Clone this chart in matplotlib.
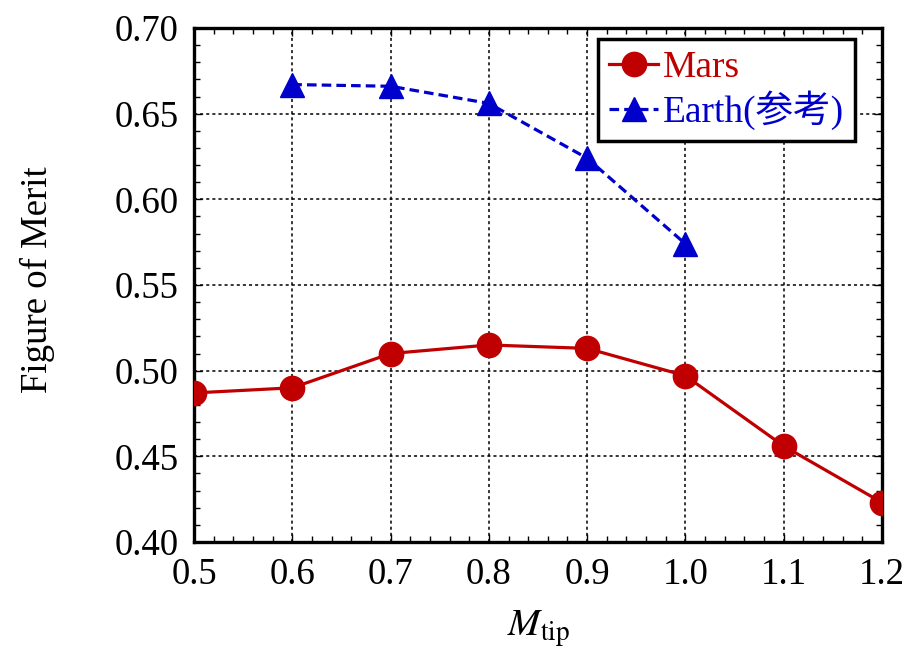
"""
Figure of Merit vs tip Mach number, Mars rotor with Earth reference.

Draws both series on one axes and saves the figure as out.png.
"""

import matplotlib
matplotlib.use("Agg")
import matplotlib.pyplot as plt
from matplotlib.font_manager import FontProperties
from matplotlib.ticker import MultipleLocator

# Data
mach_mars = [0.5, 0.6, 0.7, 0.8, 0.9, 1.0, 1.1, 1.2]
fom_mars = [0.487, 0.490, 0.510, 0.515, 0.513, 0.497, 0.456, 0.423]

mach_earth = [0.6, 0.7, 0.8, 0.9, 1.0]
fom_earth = [0.667, 0.666, 0.656, 0.624, 0.574]

x_ticks = [0.5, 0.6, 0.7, 0.8, 0.9, 1.0, 1.1, 1.2]
x_tick_labels = ["0.5", "0.6", "0.7", "0.8", "0.9", "1.0", "1.1", "1.2"]
y_ticks = [0.40, 0.45, 0.50, 0.55, 0.60, 0.65, 0.70]
y_tick_labels = ["0.40", "0.45", "0.50", "0.55", "0.60", "0.65", "0.70"]

RED = "#C00000"
BLUE = "#0000CD"
FAMILY = ["Liberation Serif", "Noto Sans CJK JP"]


def plot_fom():
    plt.rcParams["font.family"] = FAMILY
    plt.rcParams["mathtext.fontset"] = "stix"

    fig = plt.figure(figsize=(9.16, 6.53), dpi=100)
    ax = fig.add_axes([0.2118, 0.170, 0.7511, 0.7871])

    ax.plot(mach_mars, fom_mars, color=RED, lw=2.3, marker="o",
            markersize=17.5, label="Mars", zorder=3)
    ax.plot(mach_earth, fom_earth, color=BLUE, lw=2.3, marker="^",
            markersize=17, dashes=(3.0, 1.6), label="Earth(参考)", zorder=3)

    ax.set_xlim(0.5, 1.2)
    ax.set_ylim(0.40, 0.70)
    ax.set_xticks(x_ticks)
    ax.set_xticklabels(x_tick_labels)
    ax.set_yticks(y_ticks)
    ax.set_yticklabels(y_tick_labels)
    ax.xaxis.set_minor_locator(MultipleLocator(0.02))
    ax.yaxis.set_minor_locator(MultipleLocator(0.01))

    ax.tick_params(which="both", direction="in", top=True, right=True,
                   width=1.0, labelsize=26.5, pad=11)
    ax.tick_params(which="major", length=6)
    ax.tick_params(which="minor", length=4)
    for spine in ax.spines.values():
        spine.set_linewidth(2.4)

    ax.grid(True, which="major", color="black", lw=1.1, linestyle=(0, (2, 2)))

    ax.set_ylabel("Figure of Merit", fontsize=26.5)
    ax.yaxis.set_label_coords(-0.202, 0.51)
    ax.set_xlabel(r"$M_{\mathrm{tip}}$", fontsize=28)
    ax.xaxis.set_label_coords(0.5, -0.13)

    leg = ax.legend(loc="upper right", bbox_to_anchor=(0.9608, 0.9786),
                    borderaxespad=0, prop=FontProperties(family=FAMILY, size=27),
                    fancybox=False, edgecolor="black", framealpha=1,
                    handlelength=1.3, handletextpad=0.12, borderpad=0.3,
                    labelspacing=0.15)
    leg.get_frame().set_linewidth(2.5)
    for text, line in zip(leg.get_texts(), leg.get_lines()):
        text.set_color(line.get_color())

    fig.savefig("out.png", dpi=100)


if __name__ == "__main__":
    plot_fom()
